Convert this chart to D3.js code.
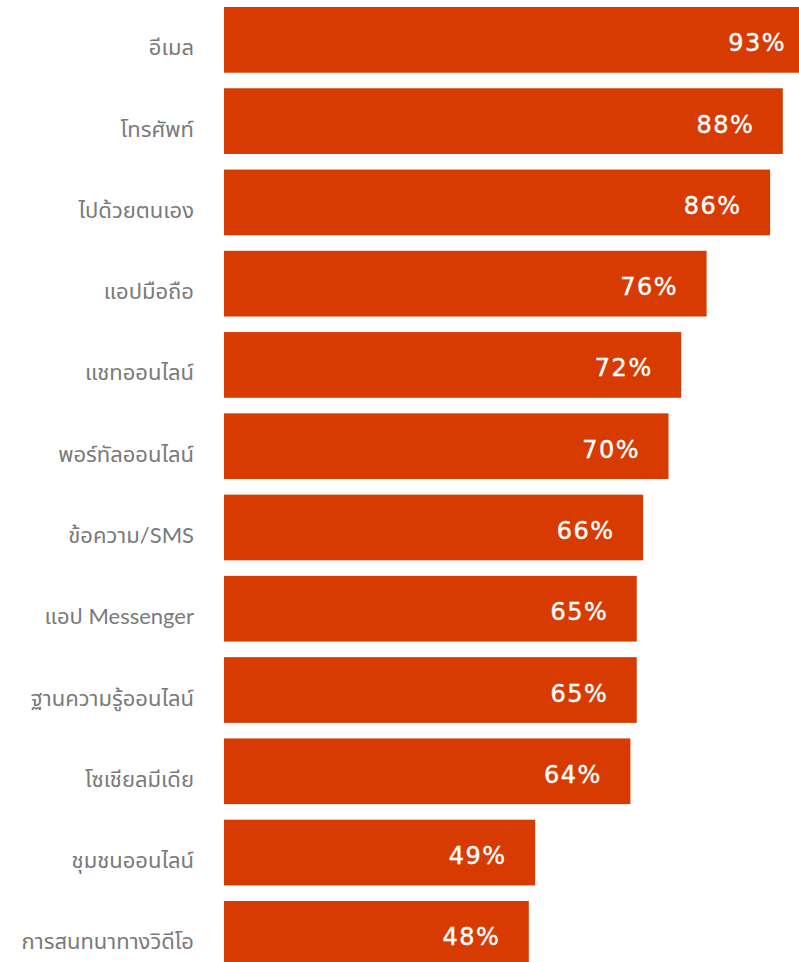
<!DOCTYPE html>
<html>
<head>
<meta charset="utf-8">
<script src="https://cdn.jsdelivr.net/npm/d3@7"></script>
<style>
  html, body { margin: 0; padding: 0; background: #fff; overflow: hidden; }
  svg { display: block; }
</style>
</head>
<body>
<div id="chart"></div>
<script>
// Channels used, with share of respondents (%)
const channels = [
  "อีเมล",
  "โทรศัพท์",
  "ไปด้วยตนเอง",
  "แอปมือถือ",
  "แชทออนไลน์",
  "พอร์ทัลออนไลน์",
  "ข้อความ/SMS",
  "แอป Messenger",
  "ฐานความรู้ออนไลน์",
  "โซเชียลมีเดีย",
  "ชุมชนออนไลน์",
  "การสนทนาทางวิดีโอ"
];
const shares = [93, 88, 86, 76, 72, 70, 66, 65, 65, 64, 49, 48];

const W = 799, H = 962;
const barColor = "#D83B01";

const svg = d3.select("#chart").append("svg")
  .attr("width", W).attr("height", H);

// Value scale; the longest bar runs past the right edge
const x = d3.scaleLinear().domain([0, 100]).range([224, 859]);

// Rows: step 81.27px, bar height 65.7px, first bar at y = 7
const step = 81.27, barH = 65.7;
const y = d3.scaleBand().domain(channels)
  .range([7, 7 + step * 12 - (step - barH)])
  .paddingInner((step - barH) / step)
  .paddingOuter(0);

const rows = channels.map((c, i) => ({ channel: c, value: shares[i] }));

svg.append("g").selectAll("rect").data(rows).join("rect")
  .attr("x", x(0))
  .attr("y", d => y(d.channel))
  .attr("width", d => x(d.value) - x(0))
  .attr("height", y.bandwidth())
  .attr("fill", barColor);

// Category axis on the left, no line or ticks
const axis = svg.append("g")
  .attr("transform", `translate(${x(0) - 30},0)`)
  .call(d3.axisLeft(y).tickSize(0).tickPadding(0));
axis.select(".domain").remove();
axis.selectAll("text")
  .attr("dy", null)
  .attr("y", 15.5)
  .attr("fill", "#7a7a7a")
  .style("font-family", "Lato, 'Noto Sans Thai', 'Leelawadee UI', 'Noto Sans', sans-serif")
  .style("font-weight", "400")
  .style("font-size", "22px");

// Value labels inside the bar ends
svg.append("g").selectAll("text").data(rows).join("text")
  .attr("x", d => x(d.value) - 28.5)
  .attr("y", d => y(d.channel) + y.bandwidth() / 2 + 11.5)
  .attr("text-anchor", "end")
  .attr("fill", "#fff")
  .attr("stroke", "#fff")
  .attr("stroke-width", 0.4)
  .style("font-family", "'DejaVu Sans', sans-serif")
  .style("font-weight", "normal")
  .style("font-size", "24px")
  .style("letter-spacing", "1.5px")
  .text(d => d.value + "%");
</script>
</body>
</html>
